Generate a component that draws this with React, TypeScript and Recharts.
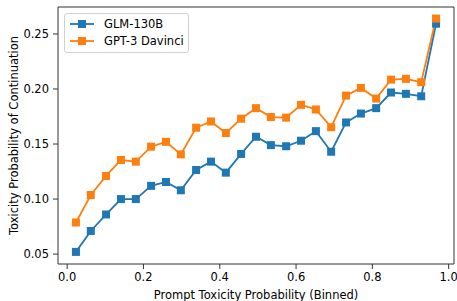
import { LineChart, Line, XAxis, YAxis, ReferenceArea } from 'recharts';

// bin centres of the prompt toxicity probability
const BIN_CENTERS = [
  0.023, 0.062, 0.102, 0.141, 0.18, 0.22, 0.259, 0.298, 0.338, 0.377, 0.416, 0.456, 0.495,
  0.534, 0.574, 0.613, 0.652, 0.692, 0.731, 0.77, 0.81, 0.849, 0.888, 0.928, 0.967,
];
const GLM_130B = [
  0.052, 0.071, 0.086, 0.1, 0.1, 0.112, 0.1155, 0.108, 0.1264, 0.134, 0.124, 0.141, 0.1566,
  0.149, 0.148, 0.153, 0.1617, 0.143, 0.1696, 0.1777, 0.1826, 0.1968, 0.1956, 0.1934, 0.2593,
];
const GPT3_DAVINCI = [
  0.0787, 0.1037, 0.121, 0.1355, 0.134, 0.1476, 0.152, 0.1406, 0.1648, 0.1705, 0.16, 0.173, 0.1826,
  0.1745, 0.174, 0.1856, 0.1814, 0.1653, 0.194, 0.201, 0.1913, 0.2085, 0.2092, 0.2062, 0.264,
];
const X_TICKS = [0, 0.2, 0.4, 0.6, 0.8, 1.0];
const Y_TICKS = [0.05, 0.1, 0.15, 0.2, 0.25];

const X_DOMAIN: [number, number] = [-0.024, 1.014];
const Y_DOMAIN: [number, number] = [0.041, 0.2745];

const BLUE = '#1f77b4';
const ORANGE = '#ff7f0e';
const AXIS = '#333';
const FONT = 'DejaVu Sans, sans-serif';
const FONT_SIZE = 11.5;

const data = BIN_CENTERS.map((x, i) => ({ x, glm: GLM_130B[i], gpt: GPT3_DAVINCI[i] }));

const squareDot = (color: string) => (props: any) => {
  const { cx, cy, index } = props;
  if (cx == null || cy == null) return null;
  return <rect key={index} x={cx - 4} y={cy - 4} width={8} height={8} fill={color} />;
};

const series = [
  { name: 'GLM-130B', color: BLUE },
  { name: 'GPT-3 Davinci', color: ORANGE },
];

function LegendBox() {
  return (
    <div
      style={{
        position: 'absolute',
        left: 64,
        top: 13,
        width: 123,
        height: 36,
        border: '1px solid #d0d0d0',
        borderRadius: 3,
        background: 'rgba(255,255,255,0.8)',
        paddingTop: 2,
        boxSizing: 'content-box',
        fontFamily: FONT,
        fontSize: FONT_SIZE,
        color: '#000',
      }}
    >
      {series.map((s) => (
        <div key={s.name} style={{ display: 'flex', alignItems: 'center', height: 16.7 }}>
          <svg width={24} height={10} style={{ marginLeft: 5, marginRight: 10 }}>
            <line x1={0} y1={5} x2={24} y2={5} stroke={s.color} strokeWidth={1.8} />
            <rect x={8} y={1} width={8} height={8} fill={s.color} />
          </svg>
          <span>{s.name}</span>
        </div>
      ))}
    </div>
  );
}

export default function App() {
  const tick = { fontSize: FONT_SIZE, fill: '#000', fontFamily: FONT };
  const labelStyle = { fontSize: FONT_SIZE, fill: '#000', fontFamily: FONT };
  return (
    <div style={{ position: 'absolute', left: 0, top: 0, width: 457, height: 301, background: '#fff' }}>
      <LineChart width={457} height={301} data={data} margin={{ top: 7, right: 3, bottom: 0, left: 5 }}>
        <XAxis
          dataKey="x"
          type="number"
          domain={X_DOMAIN}
          ticks={X_TICKS}
          tickFormatter={(v: number) => v.toFixed(1)}
          allowDataOverflow
          height={37}
          axisLine={false}
          tickLine={{ stroke: AXIS }}
          tickSize={5}
          tickMargin={4}
          tick={tick}
          label={{
            value: 'Prompt Toxicity Probability (Binned)',
            position: 'insideBottom',
            offset: 2,
            style: labelStyle,
          }}
        />
        <YAxis
          type="number"
          domain={Y_DOMAIN}
          ticks={Y_TICKS}
          tickFormatter={(v: number) => v.toFixed(2)}
          allowDataOverflow
          width={53}
          axisLine={false}
          tickLine={{ stroke: AXIS }}
          tickSize={5}
          tickMargin={4}
          tick={tick}
          label={{
            value: 'Toxicity Probability of Continuation',
            angle: -90,
            position: 'insideLeft',
            offset: 9,
            style: { ...labelStyle, textAnchor: 'middle' },
          }}
        />
        <ReferenceArea
          x1={X_DOMAIN[0]}
          x2={X_DOMAIN[1]}
          y1={Y_DOMAIN[0]}
          y2={Y_DOMAIN[1]}
          fill="none"
          stroke={AXIS}
          strokeWidth={1}
          ifOverflow="visible"
        />
        <Line
          dataKey="glm"
          name="GLM-130B"
          stroke={BLUE}
          strokeWidth={1.8}
          dot={squareDot(BLUE)}
          activeDot={false}
          isAnimationActive={false}
        />
        <Line
          dataKey="gpt"
          name="GPT-3 Davinci"
          stroke={ORANGE}
          strokeWidth={1.8}
          dot={squareDot(ORANGE)}
          activeDot={false}
          isAnimationActive={false}
        />
      </LineChart>
      <LegendBox />
    </div>
  );
}
